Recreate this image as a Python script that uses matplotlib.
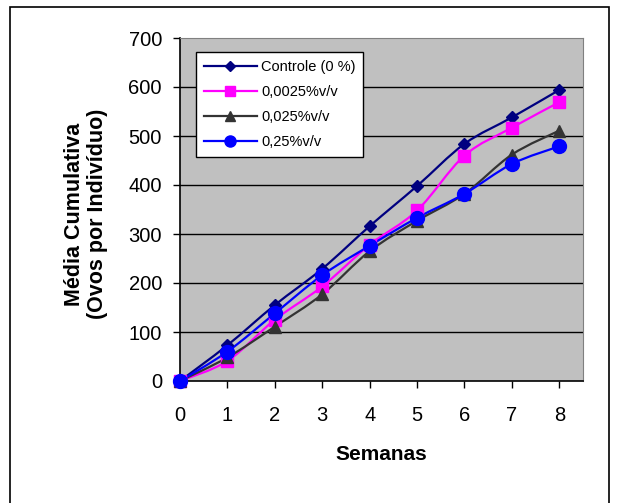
import numpy as np
import matplotlib
matplotlib.use("Agg")
import matplotlib.pyplot as plt
from matplotlib.path import Path
from matplotlib.patches import PathPatch, Rectangle
from matplotlib.lines import Line2D

plt.rcParams['font.family'] = ['Liberation Sans', 'DejaVu Sans']

semanas = [0, 1, 2, 3, 4, 5, 6, 7, 8]
controle = [0, 73, 155, 229, 316, 398, 484, 538, 594]
c_0025 = [0, 41, 125, 193, 278, 348, 460, 517, 569]
c_025 = [0, 48, 111, 177, 265, 327, 382, 462, 511]
c_25 = [0, 60, 138, 216, 276, 333, 382, 443, 479]

series = [
    ("Controle (0 %)", controle, "#000080", "D", 6.5),
    ("0,0025%v/v", c_0025, "#FF00FF", "s", 9.0),
    ("0,025%v/v", c_025, "#333333", "^", 9.0),
    ("0,25%v/v", c_25, "#0000FF", "o", 10.0),
]


def smooth_path(x, y):
    """Cubic Bezier path through the points (Catmull-Rom style smoothing)."""
    pts = np.column_stack([x, y]).astype(float)
    n = len(pts)
    verts = [pts[0]]
    codes = [Path.MOVETO]
    for i in range(n - 1):
        p0 = pts[i - 1] if i > 0 else pts[i]
        p1 = pts[i]
        p2 = pts[i + 1]
        p3 = pts[i + 2] if i + 2 < n else pts[i + 1]
        c1 = p1 + (p2 - p0) / 6.0
        c2 = p2 - (p3 - p1) / 6.0
        verts += [c1, c2, p2]
        codes += [Path.CURVE4] * 3
    return Path(verts, codes)


fig = plt.figure(figsize=(6.18, 5.03), dpi=100)
W, H = 618, 503

# outer chart frame
fig.patches.append(Rectangle((10 / W, -0.05), (609 - 10) / W, 1.05 - 7 / H,
                             transform=fig.transFigure, fill=False,
                             edgecolor='black', linewidth=1.2, zorder=0))

ax = fig.add_axes([180 / W, 1 - 381 / H, (583 - 180) / W, (381 - 38) / H])
ax.set_facecolor('#C0C0C0')
ax.set_xlim(0, 8.5)
ax.set_ylim(0, 700)

for v in range(100, 700, 100):
    ax.axhline(v, color='black', linewidth=1.0, zorder=1)

handles = []
for label, vals, color, marker, ms in series:
    ax.add_patch(PathPatch(smooth_path(semanas, vals), facecolor='none',
                           edgecolor=color, linewidth=1.6, zorder=3))
    ax.plot(semanas, vals, linestyle='none', marker=marker, markersize=ms,
            color=color, markeredgecolor=color, zorder=4, clip_on=False)
    handles.append(Line2D([], [], color=color, linewidth=1.6, marker=marker,
                          markersize=ms * 0.8, markeredgecolor=color, label=label))

ax.spines['left'].set_color('black')
ax.spines['bottom'].set_color('black')
ax.spines['left'].set_linewidth(1.2)
ax.spines['bottom'].set_linewidth(1.2)
ax.spines['top'].set_color('#808080')
ax.spines['right'].set_color('#808080')

ax.set_xticks(semanas)
ax.set_yticks(range(0, 701, 100))
ax.tick_params(axis='both', direction='out', length=5, width=1.0, labelsize=14.5,
               colors='black')
ax.tick_params(axis='x', pad=13)
ax.tick_params(axis='y', pad=8)

fig.text(381 / W, 1 - 455 / H, "Semanas", fontsize=15, fontweight='bold',
         ha='center', va='center')
fig.text(86 / W, 1 - 214 / H, "Média Cumulativa\n(Ovos por Indivíduo)",
         fontsize=15.5, fontweight='bold', rotation=90, ha='center',
         va='center', multialignment='center', linespacing=1.15)

leg = ax.legend(handles=handles, loc='upper left',
                bbox_to_anchor=((196 - 180) / 403, (381 - 52) / 343),
                borderaxespad=0, fontsize=10.5, frameon=True, fancybox=False,
                handlelength=3.6, handletextpad=0.3, labelspacing=0.75,
                borderpad=0.55)
leg.get_frame().set_edgecolor('black')
leg.get_frame().set_linewidth(1.0)
leg.get_frame().set_facecolor('white')
leg.get_frame().set_alpha(1)
leg.set_zorder(5)

fig.savefig("out.png", dpi=100)
